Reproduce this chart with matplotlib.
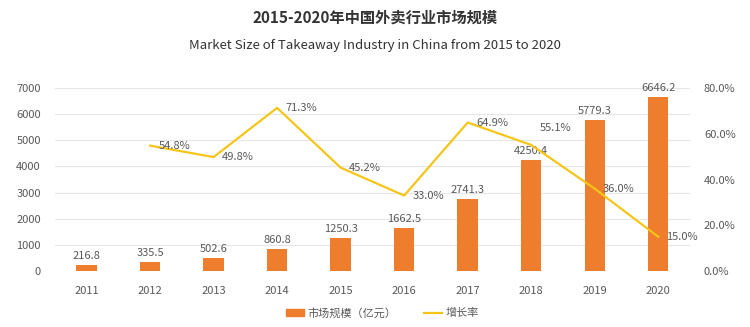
import numpy as np
import matplotlib.pyplot as plt
from matplotlib.patches import Patch
from matplotlib.lines import Line2D

plt.rcParams['font.family'] = ['Noto Sans CJK SC', 'DejaVu Sans']

years = ['2011', '2012', '2013', '2014', '2015', '2016', '2017', '2018', '2019', '2020']
market = [216.8, 335.5, 502.6, 860.8, 1250.3, 1662.5, 2741.3, 4250.4, 5779.3, 6646.2]
growth = [None, 54.8, 49.8, 71.3, 45.2, 33.0, 64.9, 55.1, 36.0, 15.0]

bar_color = '#EE7D2E'
line_color = '#F5C518'
text_color = '#595959'

fig = plt.figure(figsize=(7.5, 3.27), dpi=100)
ax = fig.add_axes([0.073, 0.171, 0.847, 0.56])
ax2 = ax.twinx()

x = np.arange(len(years))
ax.bar(x, market, width=0.32, color=bar_color, zorder=2)
for xi, v in zip(x, market):
    ax.text(xi, v + 150, f'{v:.1f}', ha='center', va='bottom', fontsize=8, color=text_color)

gx = [xi for xi, g in zip(x, growth) if g is not None]
gy = [g for g in growth if g is not None]
ax2.plot(gx, gy, color=line_color, lw=1.6, zorder=3)
for xi, g in zip(gx, gy):
    # the 2018 label sits a bit higher in the original, above the bar value
    dy = 12 if years[xi] == '2018' else 0
    ax2.annotate(f'{g:.1f}%', (xi, g), xytext=(6, dy), textcoords='offset points',
                 ha='left', va='center', fontsize=8, color=text_color)

ax.set_xlim(-0.5, len(years) - 0.5)
ax.set_ylim(0, 7000)
ax.set_yticks(range(0, 7001, 1000))
ax2.set_ylim(0, 80)
ax2.set_yticks(range(0, 81, 20))
ax2.set_yticklabels([f'{t:.1f}%' for t in range(0, 81, 20)])
ax.set_xticks(x)
ax.set_xticklabels(years)

ax.grid(axis='y', color='#E6E6E6', lw=0.8, zorder=0)
for a in (ax, ax2):
    for s in a.spines.values():
        s.set_visible(False)
    a.tick_params(length=0, labelsize=8, colors=text_color)
ax.tick_params(axis='x', pad=11)
ax.tick_params(axis='y', pad=10)
ax2.tick_params(axis='y', pad=10)

fig.text(0.5, 0.945, '2015-2020年中国外卖行业市场规模', ha='center', va='center',
         fontsize=11, fontweight='bold', color='#333333')
fig.text(0.5, 0.862, 'Market Size of Takeaway Industry in China from 2015 to 2020', ha='center',
         va='center', fontsize=9.5, color='#333333')

handles = [Patch(color=bar_color, label='市场规模（亿元）'),
           Line2D([0], [0], color=line_color, lw=1.6, label='增长率')]
fig.legend(handles=handles, loc='center', bbox_to_anchor=(0.51, 0.043), ncol=2, frameon=False,
           fontsize=8, labelcolor=text_color, handlelength=1.6, handleheight=0.5,
           handletextpad=0.3, columnspacing=2.5)

fig.savefig('out.png', dpi=100)
